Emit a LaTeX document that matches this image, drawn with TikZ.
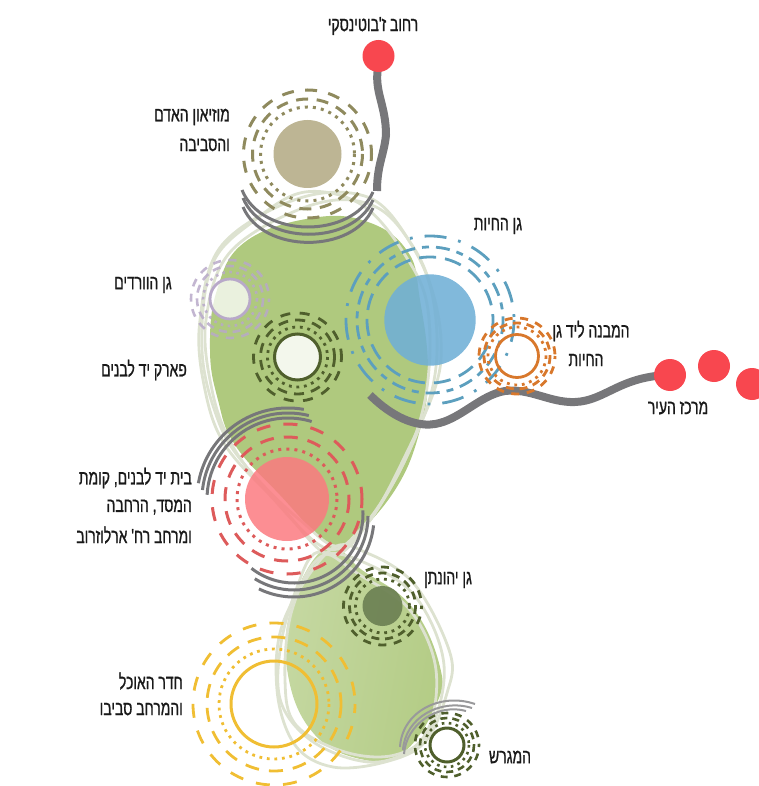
\documentclass[tikz,border=0pt]{standalone}
\usepackage{fontspec}
\newfontfamily\hebfont[Script=Hebrew,FakeStretch=0.68,FakeBold=0.9]{Liberation Sans}
\TeXXeTstate=1
\definecolor{roadgrey}{HTML}{77777A}
\definecolor{outl}{HTML}{DDE2D0}
\definecolor{bigblob}{HTML}{AFC97E}
\definecolor{museum}{HTML}{8F8A5E}
\definecolor{museumfill}{HTML}{BDB594}
\definecolor{zoo}{HTML}{5C9FBE}
\definecolor{zoofill}{HTML}{70AFD6}
\definecolor{orangec}{HTML}{D8782C}
\definecolor{rosec}{HTML}{B8A9C9}
\definecolor{parkc}{HTML}{4F5F2C}
\definecolor{yehofill}{HTML}{6F8355}
\definecolor{redring}{HTML}{DD5B5B}
\definecolor{redfill}{HTML}{FB7A80}
\definecolor{yellowc}{HTML}{F0BE33}
\definecolor{pointred}{HTML}{F8474F}
\tikzset{
  lab/.style={font=\hebfont\fontsize{20.5}{20.5}\selectfont,inner sep=0pt,text=black!90},
  road/.style={draw=roadgrey,line width=8pt,line join=round},
  arcline/.style={draw=roadgrey,line width=3pt},
  thinarc/.style={draw=roadgrey!75,line width=2pt},
  blobline/.style={draw=outl,line width=2.8pt},
  stop/.style={fill=pointred},
}
% cx cy colour rdot rdash router width dash
\newcommand{\ringsetb}[8]{%
  \draw[#3,line width=#7pt,dash pattern=on #7pt off 1.7*#7pt] (#1,#2) circle[radius=#4];
  \draw[#3,line width=#7pt,dash pattern=on #8pt off 0.72*#8pt] (#1,#2) circle[radius=#5];
  \draw[#3,line width=#7pt,dash pattern=on #8pt off 0.95*#8pt,dash phase=5pt] (#1,#2) circle[radius=#6];
}
\begin{document}
\begin{tikzpicture}[x=1pt,y=-1pt]
\useasboundingbox (0,0) rectangle (758,786);
% blobs
\fill[bigblob] plot[smooth cycle,tension=.7] coordinates {(312,218)(368,222)(408,252)(420,300)(428,370)(420,430)(395,490)(350,540)(327,543)(280,495)(235,445)(218,400)(210,350)(217,290)(245,242)};
\shade[left color=bigblob!72!white,right color=bigblob!95!white,shading angle=80] plot[smooth cycle,tension=.7] coordinates {(327,547)(362,570)(412,607)(440,667)(436,705)(403,753)(365,760)(315,735)(288,675)(292,605)};
% outlines
\draw[blobline] plot[smooth cycle,tension=.6] coordinates {(300,198)(370,198)(412,245)(432,290)(441,340)(436,385)(408,450)(370,520)(330,555)(280,505)(225,445)(204,385)(200,320)(222,245)};
\draw[blobline] plot[smooth cycle,tension=.6] coordinates {(315,204)(378,208)(420,260)(436,320)(432,390)(400,470)(360,530)(325,548)(270,495)(232,445)(212,390)(206,320)(232,250)};
\draw[blobline] plot[smooth cycle,tension=.6] coordinates {(305,192)(362,205)(405,255)(428,310)(425,400)(395,480)(345,545)(300,520)(245,465)(218,420)(202,350)(212,265)(255,220)};
\draw[blobline] plot[smooth cycle,tension=.6] coordinates {(330,550)(367,553)(415,585)(450,653)(447,693)(425,742)(385,762)(333,767)(295,745)(277,690)(284,620)};
\draw[blobline] plot[smooth cycle,tension=.6] coordinates {(322,556)(372,566)(418,600)(444,665)(430,730)(395,755)(345,752)(296,725)(285,680)(292,610)};
\draw[blobline] plot[smooth cycle,tension=.6] coordinates {(318,552)(360,575)(410,610)(436,670)(425,735)(378,762)(318,745)(282,705)(280,650)(296,590)};
% roads
\draw[road] (378,68) .. controls (374,92) and (386,105) .. (386,135) .. controls (384,155) and (377,165) .. (377,191);
\draw[road] (370,395) .. controls (385,410) and (410,428) .. (435,424) .. controls (460,420) and (480,395) .. (505,391) .. controls (530,388) and (550,403) .. (575,402) .. controls (605,401) and (620,376) .. (670,375);
% museum
\fill[museumfill] (307.5,154) circle[radius=34];
\ringsetb{307.5}{154}{museum}{47}{55}{64}{3}{12}
\draw[arcline] (242,190) .. controls (262,239) and (352,239) .. (373,192);
\draw[arcline] (243,198) .. controls (263,246) and (353,246) .. (373,200);
\draw[arcline] (243,207) .. controls (263,254) and (353,254) .. (373,208);
% zoo
\fill[zoofill,opacity=.88] (430,320) circle[radius=45.7];
\draw[zoo,line width=2.8pt,dash pattern=on 17pt off 9pt] (430,320) circle[radius=63];
\draw[zoo,line width=2.8pt,dash pattern=on 14pt off 7pt on 7pt off 7pt] (430,320) circle[radius=73];
\draw[zoo,line width=2.8pt,dash pattern=on 22pt off 12pt on 2.8pt off 12pt] (430,320) circle[radius=84];
% orange
\draw[orangec,line width=2.8pt] (517,356) circle[radius=21.5];
\ringsetb{517}{356}{orangec}{29}{33}{38}{2.8}{8}
% rose
\fill[white,opacity=.75] (230,299) circle[radius=20];
\draw[rosec,line width=2.8pt] (230,299) circle[radius=20];
\begin{scope}[opacity=.85]
\ringsetb{230}{299}{rosec}{27}{33}{39}{2.6}{8}
\end{scope}
% park
\fill[bigblob!15!white] (297.5,357) circle[radius=23];
\draw[parkc,line width=3pt] (297.5,357) circle[radius=23];
\ringsetb{297.5}{357}{parkc}{30}{37}{44}{2.8}{10}
% red
\fill[redfill,opacity=.85] (287,499) circle[radius=42];
\ringsetb{287}{499}{redring}{50}{62}{75}{3}{14}
\draw[arcline] (288,499) ++(190:91) arc[start angle=190,end angle=280,radius=91];
\draw[arcline] (288,499) ++(186:86) arc[start angle=186,end angle=284,radius=86];
\draw[arcline] (288,499) ++(183:81) arc[start angle=183,end angle=287,radius=81];
\draw[arcline] (294,517) ++(6:80) arc[start angle=6,end angle=116,radius=80];
\draw[arcline] (294,516) ++(0:74) arc[start angle=0,end angle=122,radius=74];
\draw[arcline] (294,514) ++(-3:69) arc[start angle=-3,end angle=128,radius=69];
% yehonatan
\fill[yehofill,opacity=.95] (382.5,606) circle[radius=20];
\ringsetb{382.5}{606}{parkc}{27}{33}{39}{2.8}{8}
% yellow
\draw[yellowc,line width=3pt] (274,704) circle[radius=43];
\ringsetb{274}{704}{yellowc}{55}{67}{81}{2.8}{14}
% pitch
\draw[parkc,line width=3pt] (447,745) circle[radius=17];
\ringsetb{447}{745}{parkc}{22}{27}{32}{2.6}{7}
\draw[thinarc] (400,747) .. controls (402,712) and (440,692) .. (475,704);
\draw[thinarc] (403,750) .. controls (405,718) and (440,698) .. (472,708);
\draw[thinarc] (404,754) .. controls (406,724) and (438,703) .. (466,711);
% stops
\fill[stop] (378.5,56) circle[radius=16];
\fill[stop] (670,375) circle[radius=16];
\fill[stop] (714,366) circle[radius=16];
\fill[stop] (752,384) circle[radius=16];
% labels
\node[lab] (ljab) at (373,26) {\beginR רחוב ז'בוטינסקי\endR};
\node[lab,anchor=east] (lmus) at (230,117) {\beginR מוזיאון האדם\endR};
\node[lab,anchor=east] (lmusb) at (230,145) {\beginR והסביבה\endR};
\node[lab] (lzoo) at (498,226) {\beginR גן החיות\endR};
\node[lab] (lrose) at (143,285) {\beginR גן הוורדים\endR};
\node[lab] (lpark) at (144,370) {\beginR פארק יד לבנים\endR};
\node[lab] (lbld) at (591,331) {\beginR המבנה ליד גן\endR};
\node[lab] (lbldb) at (586,360) {\beginR החיות\endR};
\node[lab] (lcity) at (678,408) {\beginR מרכז העיר\endR};
\node[lab,anchor=east] (lbeit) at (192,478) {\beginR בית יד לבנים, קומת\endR};
\node[lab,anchor=east] (lbeitb) at (192,507) {\beginR המסד, הרחבה\endR};
\node[lab,anchor=east] (lbeitc) at (192,535) {\beginR ומרחב רח' ארלוזרוב\endR};
\node[lab] (lyeh) at (448,580) {\beginR גן יהונתן\endR};
\node[lab,anchor=east] (ldin) at (183,681) {\beginR חדר האוכל\endR};
\node[lab,anchor=east] (ldinb) at (183,709) {\beginR והמרחב סביבו\endR};
\node[lab] (lpit) at (510,757) {\beginR המגרש\endR};
\end{tikzpicture}
\end{document}
